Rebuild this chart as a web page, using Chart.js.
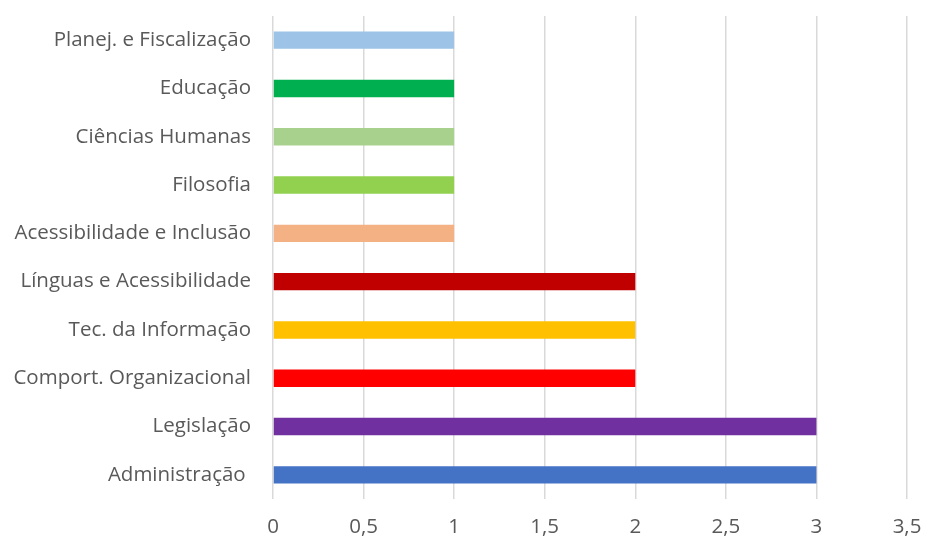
<!DOCTYPE html>
<html>
<head>
<meta charset="utf-8">
<script src="https://cdn.jsdelivr.net/npm/chart.js@4"></script>
<style>
  html, body { margin: 0; padding: 0; background: #fff; }
  #wrap { width: 925px; height: 540px; }
</style>
</head>
<body>
<div id="wrap"><canvas id="cht-areas" width="925" height="540"></canvas></div>
<script>
var areas = [
    'Planej. e Fiscalização',
    'Educação',
    'Ciências Humanas',
    'Filosofia',
    'Acessibilidade e Inclusão',
    'Línguas e Acessibilidade',
    'Tec. da Informação',
    'Comport. Organizacional',
    'Legislação',
    'Administração '
];
var counts = [1, 1, 1, 1, 1, 2, 2, 2, 3, 3];
var barColours = ['#9DC3E6', '#00B050', '#A9D18E', '#92D050', '#F4B183',
                  '#C00000', '#FFC000', '#FF0000', '#7030A0', '#4472C4'];
var xMax = 3.5;
var xStep = 0.5;

var txt = '#595959';
var fontFamily = '"Open Sans", "Noto Sans", sans-serif';

var ch = new Chart(document.getElementById('cht-areas'), {
    type: 'bar',
    data: {
        labels: areas,
        datasets: [{
            data: counts,
            backgroundColor: barColours,
            borderWidth: 0,
            barPercentage: 0.72,
            categoryPercentage: 0.5
        }]
    },
    options: {
        indexAxis: 'y',
        responsive: false,
        animation: false,
        layout: { padding: { left: 4, right: 18, top: 16, bottom: 0 } },
        plugins: { legend: { display: false }, tooltip: { enabled: false } },
        scales: {
            x: {
                min: 0,
                max: xMax,
                ticks: {
                    stepSize: xStep,
                    color: txt,
                    font: { family: fontFamily, size: 20.5 },
                    padding: 16,
                    callback: function (v) { return String(v).replace('.', ','); }
                },
                grid: { color: '#D9D9D9', lineWidth: 1.5, drawTicks: false },
                border: { display: false },
                afterFit: function (scale) {
                    scale.height = 41;
                    scale.paddingLeft = 0;
                    scale.paddingRight = 0;
                }
            },
            y: {
                ticks: {
                    color: txt,
                    font: { family: fontFamily, size: 20.5 },
                    padding: 22
                },
                grid: { display: false, drawTicks: false },
                border: { display: false },
                afterFit: function (scale) {
                    scale.width = 269;
                    scale.paddingTop = 0;
                    scale.paddingBottom = 0;
                }
            }
        }
    }
});
</script>
</body>
</html>
